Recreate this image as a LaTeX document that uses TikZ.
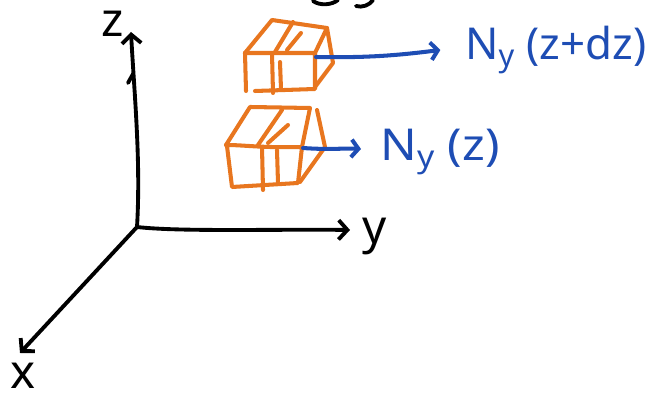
\documentclass[tikz,border=0pt]{standalone}
\usepackage{fontspec}
\setmainfont{Noto Sans}
\usetikzlibrary{arrows.meta}
\definecolor{penorange}{HTML}{E8761F}
\definecolor{penblue}{HTML}{1E4DB4}
\begin{document}
\begin{tikzpicture}[x=0.02cm,y=-0.02cm,
  axis/.style={line width=2.2pt,line cap=round,line join=round,black,
    -{Straight Barb[length=5pt,width=11pt,line width=2.2pt]}},
  pen/.style={line width=2.3pt,line cap=round,line join=round,penorange},
  flux/.style={line width=2.3pt,line cap=round,penblue,
    -{Straight Barb[length=4pt,width=10pt,line width=2.3pt]}},
  axlabel/.style={black,inner sep=0pt,font=\fontsize{27}{27}\selectfont},
  fluxlabel/.style={penblue,anchor=west,inner sep=0pt,font=\fontsize{25}{25}\selectfont}]
\useasboundingbox (0,0) rectangle (653,401);

% axes
\coordinate (O) at (137,227);
\coordinate (zend) at (131,32);
\coordinate (yend) at (350,230);
\coordinate (xend) at (20,353);
\draw[axis] (O) .. controls (141,160) and (134,90) .. (zend);
\draw[axis] (O) .. controls (180,232) and (280,229) .. (yend);
\draw[axis] (O) -- (xend);
\draw[line width=2.2pt,line cap=round] (128,83) -- (133,74);
\node[axlabel] (zlab) at (113,24) {z};
\node[axlabel] (ylab) at (375,236) {y};
\node[axlabel] (xlab) at (23,376) {x};

% edges of a label above, cut by the top border
\draw[line width=2.2pt,line cap=round] (313,1) .. controls (320,6) and (332,5) .. (338,0);
\draw[line width=2.2pt,line cap=round] (356,6) .. controls (362,8) and (370,5) .. (373,0);

% upper slab
\draw[pen] (245,53) -- (315,53) -- (315,89) -- (255,91);
\draw[pen] (245,53) -- (246,91);
\draw[pen] (272,53) -- (273,93);
\draw[pen] (280,62) -- (281,89);
\draw[pen] (245,53) -- (272,20) -- (327,28) -- (315,53);
\draw[pen] (293,22) -- (275,52);
\draw[pen] (301,33) -- (287,50);
\draw[pen] (327,28) -- (333,63) -- (315,87);

% lower slab
\draw[pen] (226,145) .. controls (245,145) and (260,148) .. (302,147) -- (298,183) -- (232,187) -- (227,146);
\draw[pen] (262,147) -- (263,190);
\draw[pen] (277,150) -- (278,183);
\draw[pen] (226,145) -- (250,107) -- (310,108) -- (302,147);
\draw[pen] (282,110) -- (258,145);
\draw[pen] (288,125) -- (268,143);
\draw[pen] (317,110) -- (325,147) -- (300,182);

% fluxes
\coordinate (topface) at (316,57);
\coordinate (botface) at (303,148);
\coordinate (botend) at (361,149);
\node[fluxlabel] (Ntop) at (465,50) {N\textsubscript{y} (z+dz)};
\node[fluxlabel,xscale=1.1] (Nbot) at (380,152) {N\textsubscript{y} (z)};
\draw[flux] (topface) .. controls (370,58) and (400,55) .. ([xshift=-14pt]Ntop.west);
\draw[flux] (botface) .. controls (330,150) and (345,148) .. (botend);
\end{tikzpicture}
\end{document}
